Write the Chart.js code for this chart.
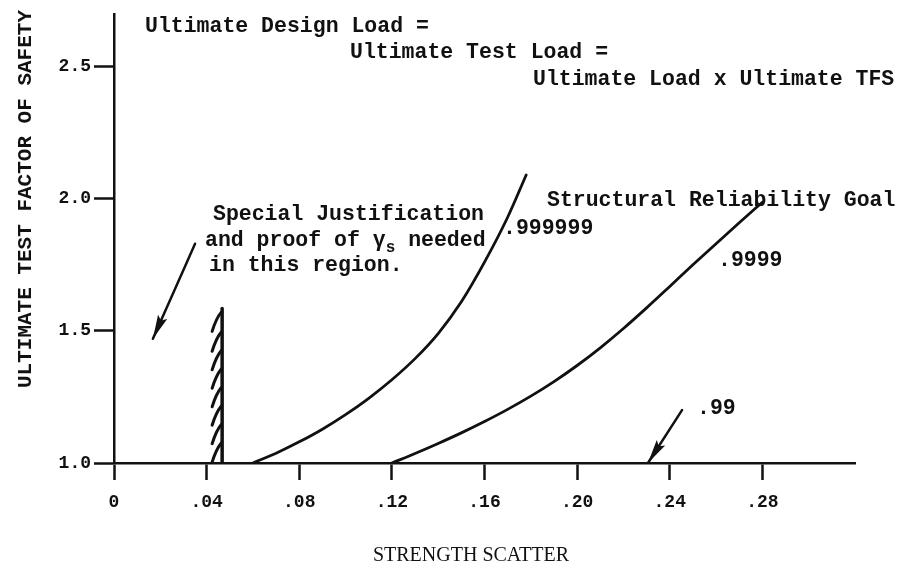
<!DOCTYPE html>
<html>
<head>
<meta charset="utf-8">
<script src="https://cdn.jsdelivr.net/npm/chart.js@4.4.1/dist/chart.umd.min.js"></script>
<style>
  html, body { margin: 0; padding: 0; background: #fff; }
  #wrap { width: 900px; height: 572px; }
</style>
</head>
<body>
<div id="wrap"><canvas id="myChart" width="900" height="572"></canvas></div>
<script>
// tick values
const xTicks = [0, 0.04, 0.08, 0.12, 0.16, 0.20, 0.24, 0.28];
const yTicks = [1.0, 1.5, 2.0, 2.5];

// reliability goal .999999
const scatterA = [0.06, 0.07, 0.08, 0.09, 0.10, 0.11, 0.12, 0.13, 0.14, 0.15, 0.16, 0.17, 0.178];
const factorA  = [1.0, 1.037, 1.08, 1.128, 1.183, 1.245, 1.315, 1.395, 1.49, 1.61, 1.76, 1.93, 2.09];

// reliability goal .9999
const scatterB = [0.12, 0.13, 0.14, 0.15, 0.16, 0.17, 0.18, 0.19, 0.20, 0.21, 0.22, 0.23, 0.24, 0.25, 0.26, 0.27, 0.28];
const factorB  = [1.0, 1.036, 1.074, 1.114, 1.157, 1.203, 1.253, 1.308, 1.369, 1.436, 1.509, 1.587, 1.668, 1.750, 1.830, 1.909, 1.987];

// hatched limit (special justification region)
const limitX = [0.0467, 0.0467];
const limitY = [1.0, 1.585];
const hatchY = [1.57, 1.495, 1.425, 1.355, 1.285, 1.215, 1.145, 1.075];

// arrows, tail then tip
const arrowJustX = [0.035, 0.0168];
const arrowJustY = [1.83, 1.47];
const arrow99X = [0.2453, 0.2306];
const arrow99Y = [1.2, 1.0];

const ink = '#111';
const typeFace = '"Liberation Mono", "Courier New", monospace';

// text notes (left x, middle y in px)
const notes = [
    ['Ultimate Design Load =', 145, 27],
    ['Ultimate Test Load =', 350, 53],
    ['Ultimate Load x Ultimate TFS', 533, 80],
    ['Structural Reliability Goal', 547, 201],
    ['.999999', 503, 229],
    ['.9999', 718, 261],
    ['Special Justification', 213, 215],
    ['in this region.', 209, 266],
    ['.99', 697, 409]
];

function pts(xs, ys) {
    return xs.map((x, i) => ({ x: x, y: ys[i] }));
}

function lineSet(xs, ys, w) {
    return {
        data: pts(xs, ys),
        borderColor: ink,
        borderWidth: w,
        pointRadius: 0,
        fill: false,
        cubicInterpolationMode: 'monotone',
        borderCapStyle: 'round'
    };
}

function arrowHead(ctx, x0, y0, x1, y1) {
    const a = Math.atan2(y1 - y0, x1 - x0);
    const len = 24, half = 5;
    ctx.save();
    ctx.translate(x1, y1);
    ctx.rotate(a);
    ctx.beginPath();
    ctx.moveTo(0, 0);
    ctx.lineTo(-len, -half);
    ctx.lineTo(-len + 4, 0);
    ctx.lineTo(-len, half);
    ctx.closePath();
    ctx.fillStyle = ink;
    ctx.fill();
    ctx.restore();
}

const overlay = {
    id: 'overlay',
    afterDatasetsDraw(chart) {
        const { ctx, scales: { x, y } } = chart;
        ctx.save();

        // hatches on the left side of the limit line
        ctx.strokeStyle = ink;
        ctx.lineWidth = 3;
        ctx.lineCap = 'round';
        const hx = x.getPixelForValue(limitX[0]);
        hatchY.forEach(v => {
            const hy = y.getPixelForValue(v);
            ctx.beginPath();
            ctx.moveTo(hx - 1, hy);
            ctx.quadraticCurveTo(hx - 6, hy + 6, hx - 10, hy + 19);
            ctx.stroke();
        });

        arrowHead(ctx, x.getPixelForValue(arrowJustX[0]), y.getPixelForValue(arrowJustY[0]),
            x.getPixelForValue(arrowJustX[1]), y.getPixelForValue(arrowJustY[1]));
        arrowHead(ctx, x.getPixelForValue(arrow99X[0]), y.getPixelForValue(arrow99Y[0]),
            x.getPixelForValue(arrow99X[1]), y.getPixelForValue(arrow99Y[1]));

        ctx.fillStyle = ink;
        ctx.textBaseline = 'middle';
        ctx.textAlign = 'left';
        ctx.font = 'bold 21.5px ' + typeFace;
        notes.forEach(n => ctx.fillText(n[0], n[1], n[2]));

        // line with the gamma sub s
        let cx = 205;
        const cy = 241;
        ctx.fillText('and proof of ', cx, cy);
        cx += ctx.measureText('and proof of ').width;
        ctx.fillText('\u03B3', cx, cy);
        cx += ctx.measureText('\u03B3').width;
        ctx.font = 'bold 16px ' + typeFace;
        ctx.fillText('s', cx, cy + 7);
        cx += ctx.measureText('s').width;
        ctx.font = 'bold 21.5px ' + typeFace;
        ctx.fillText(' needed', cx, cy);

        // axis titles
        ctx.textAlign = 'center';
        ctx.font = '20px "Liberation Serif", serif';
        ctx.fillText('STRENGTH SCATTER', 471, 556);
        ctx.translate(26, 199);
        ctx.rotate(-Math.PI / 2);
        ctx.font = 'bold 21px ' + typeFace;
        ctx.fillText('ULTIMATE TEST FACTOR OF SAFETY', 0, 0);
        ctx.restore();
    }
};

const ctx = document.getElementById('myChart').getContext('2d');
const chart = new Chart(ctx, {
    type: 'line',
    data: {
        datasets: [
            lineSet(scatterA, factorA, 2.8),
            lineSet(scatterB, factorB, 2.8),
            lineSet(limitX, limitY, 3.5),
            lineSet(arrowJustX, arrowJustY, 2.5),
            lineSet(arrow99X, arrow99Y, 2.5)
        ]
    },
    options: {
        responsive: false,
        animation: false,
        devicePixelRatio: 1,
        layout: { padding: { left: 0, right: 45, top: 10, bottom: 0 } },
        plugins: {
            legend: { display: false },
            tooltip: { enabled: false }
        },
        scales: {
            x: {
                type: 'linear',
                min: 0,
                max: 0.32,
                afterBuildTicks: s => { s.ticks = xTicks.map(v => ({ value: v })); },
                afterFit: s => { s.height = 109; },
                grid: { drawOnChartArea: false, drawTicks: true, tickLength: 17, tickWidth: 2.5, tickColor: ink },
                border: { color: ink, width: 2.5 },
                ticks: {
                    color: ink,
                    autoSkip: false,
                    maxRotation: 0,
                    padding: 12,
                    font: { family: typeFace, size: 18, weight: 'bold' },
                    callback: v => v === 0 ? '0' : v.toFixed(2).replace(/^0/, '')
                }
            },
            y: {
                type: 'linear',
                min: 1.0,
                max: 2.7,
                afterBuildTicks: s => { s.ticks = yTicks.map(v => ({ value: v })); },
                afterFit: s => { s.width = 114; },
                grid: { drawOnChartArea: false, drawTicks: true, tickLength: 20, tickWidth: 2.5, tickColor: ink },
                border: { color: ink, width: 2.5 },
                ticks: {
                    color: ink,
                    padding: 3,
                    font: { family: typeFace, size: 18, weight: 'bold' },
                    callback: v => v.toFixed(1)
                }
            }
        }
    },
    plugins: [overlay]
});
</script>
</body>
</html>
